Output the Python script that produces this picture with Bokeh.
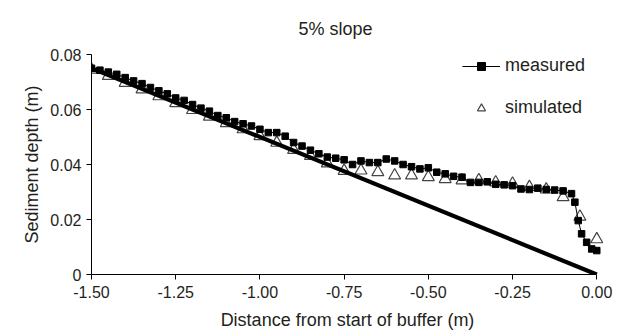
from bokeh.plotting import figure
from bokeh.models import Range1d, FixedTicker, Legend, LegendItem, Title
from bokeh.embed import file_html
from bokeh.resources import INLINE

# ---- data ----
meas_x = [-1.500, -1.475, -1.450, -1.425, -1.400, -1.375, -1.350, -1.325, -1.300, -1.275,
          -1.250, -1.225, -1.200, -1.175, -1.150, -1.125, -1.100, -1.075, -1.050, -1.025,
          -1.000, -0.975, -0.950, -0.925, -0.900, -0.875, -0.850, -0.825, -0.800, -0.775,
          -0.750, -0.725, -0.700, -0.675, -0.650, -0.625, -0.600, -0.575, -0.550, -0.525,
          -0.500, -0.475, -0.450, -0.425, -0.400, -0.375, -0.350, -0.325, -0.300, -0.275,
          -0.250, -0.225, -0.200, -0.175, -0.150, -0.125, -0.100, -0.075, -0.065, -0.055,
          -0.045, -0.030, -0.015, 0.000]
meas_y = [0.0750, 0.0743, 0.0736, 0.0728, 0.0716, 0.0704, 0.0694, 0.0680, 0.0668, 0.0657,
          0.0642, 0.0633, 0.0618, 0.0605, 0.0594, 0.0578, 0.0570, 0.0556, 0.0548, 0.0540,
          0.0528, 0.0516, 0.0516, 0.0503, 0.0480, 0.0467, 0.0452, 0.0439, 0.0427, 0.0423,
          0.0417, 0.0400, 0.0413, 0.0407, 0.0407, 0.0420, 0.0413, 0.0400, 0.0392, 0.0384,
          0.0388, 0.0372, 0.0366, 0.0357, 0.0354, 0.0335, 0.0335, 0.0337, 0.0328, 0.0326,
          0.0323, 0.0311, 0.0309, 0.0314, 0.0309, 0.0307, 0.0304, 0.0294, 0.0263, 0.0196,
          0.0148, 0.0117, 0.0093, 0.0087]

sim_x = [-1.50, -1.45, -1.40, -1.35, -1.30, -1.25, -1.20, -1.15, -1.10, -1.05,
         -1.00, -0.95, -0.90, -0.85, -0.80, -0.75, -0.70, -0.65, -0.60, -0.55,
         -0.50, -0.45, -0.40, -0.35, -0.30, -0.25, -0.20, -0.15, -0.10, -0.05, 0.00]
sim_y = [0.0745, 0.0722, 0.0697, 0.0673, 0.0648, 0.0623, 0.0598, 0.0574, 0.0550, 0.0528,
         0.0503, 0.0479, 0.0453, 0.0431, 0.0404, 0.0377, 0.0378, 0.0372, 0.0360, 0.0360,
         0.0354, 0.0347, 0.0342, 0.0343, 0.0335, 0.0330, 0.0318, 0.0309, 0.0281, 0.0210, 0.0128]

bed_x = [-1.5, 0.0]
bed_y = [0.075, 0.0]

x_ticks = [-1.5, -1.25, -1.0, -0.75, -0.5, -0.25, 0.0]
x_tick_labels = ["-1.50", "-1.25", "-1.00", "-0.75", "-0.50", "-0.25", "0.00"]
y_ticks = [0.0, 0.02, 0.04, 0.06, 0.08]
y_tick_labels = ["0", "0.02", "0.04", "0.06", "0.08"]

FONT = "Liberation Sans"
TXT = "#231f20"

p = figure(width=618, height=335, output_backend="svg", toolbar_location=None,
           x_range=Range1d(-1.5, 0.02), y_range=Range1d(0.0, 0.08),
           min_border_left=91, min_border_right=15, min_border_top=54, min_border_bottom=61)
p.outline_line_color = None
p.background_fill_color = "white"
p.border_fill_color = "white"
p.grid.visible = False

p.title = Title(text="5% slope", align="left", offset=207, standoff=32, text_font=FONT,
                text_font_size="18px", text_font_style="normal", text_color=TXT)

# simulated first (beneath the bed line), then bed line, then measured
r_sim = p.scatter(sim_x, sim_y, marker="triangle", size=12, fill_color="white",
                  line_color="#444444", line_width=1.2)
p.line(bed_x, bed_y, line_color="black", line_width=4.2)
r_ml = p.line(meas_x, meas_y, line_color="black", line_width=1)
r_ms = p.scatter(meas_x, meas_y, marker="square", size=6.5, fill_color="black", line_color="black")

for ax in (p.xaxis[0], p.yaxis[0]):
    ax.axis_line_color = "black"
    ax.axis_line_width = 1
    ax.major_tick_line_color = "black"
    ax.major_tick_in = 0
    ax.major_tick_out = 5
    ax.minor_tick_line_color = None
    ax.major_label_text_font = FONT
    ax.major_label_text_font_size = "16px"
    ax.major_label_text_color = TXT
    ax.axis_label_text_font = FONT
    ax.axis_label_text_font_size = "18px"
    ax.axis_label_text_font_style = "normal"
    ax.axis_label_text_color = TXT

p.xaxis.bounds = (-1.5, 0.0)
p.xaxis.ticker = FixedTicker(ticks=x_ticks)
p.xaxis.major_label_overrides = dict(zip(x_ticks, x_tick_labels))
p.xaxis.axis_label = "Distance from start of buffer (m)"
p.xaxis.major_label_standoff = 6
p.xaxis.axis_label_standoff = 9

p.yaxis.ticker = FixedTicker(ticks=y_ticks)
p.yaxis.major_label_overrides = dict(zip(y_ticks, y_tick_labels))
p.yaxis.axis_label = "Sediment depth (m)"
p.yaxis.major_label_standoff = 5
p.yaxis.axis_label_standoff = 5

legend = Legend(items=[LegendItem(label="measured", renderers=[r_ml, r_ms]),
                       LegendItem(label="simulated", renderers=[r_sim])],
                location=(371, 156), orientation="vertical",
                glyph_width=38, glyph_height=20, label_height=20, spacing=21,
                label_standoff=5, padding=0, margin=0,
                border_line_color=None, background_fill_alpha=0,
                label_text_font=FONT, label_text_font_size="18px", label_text_color=TXT)
p.add_layout(legend, "center")

open("out.html", "w").write(file_html(p, INLINE))
